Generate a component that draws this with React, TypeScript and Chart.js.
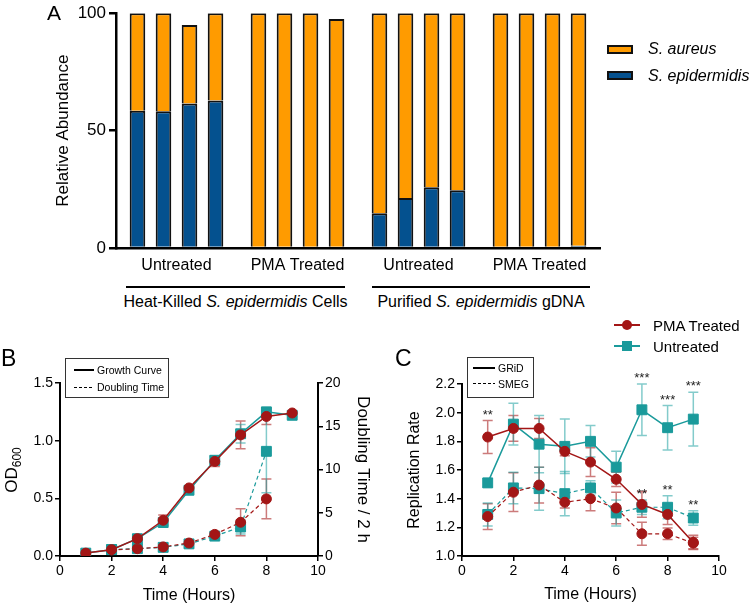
import React, { useEffect, useRef } from "react";
import { Chart, registerables } from "chart.js";
Chart.register(...registerables);

const FONT = "'Liberation Sans', Arial, Helvetica, sans-serif";
Chart.defaults.font.family = FONT;
Chart.defaults.color = "#000";

// ---------- Panel A data ----------
const groupLabels = ["Untreated", "PMA Treated", "Untreated", "PMA Treated"];
const epiHeatUntreated = [58.5, 58.2, 61.5, 62.8];
const epiHeatPMA = [0, 0, 0.5, 0];
const epiDnaUntreated = [14.8, 21.3, 25.9, 24.6];
const epiDnaPMA = [0, 0, 0, 1];
const aurHeatUntreated = [41.5, 41.8, 33.5, 37.2];
const aurHeatPMA = [100, 100, 99.5, 97.5];
const aurDnaUntreated = [85.2, 78.7, 74.1, 75.4];
const aurDnaPMA = [100, 100, 100, 99];
const replicates = [0, 1, 2, 3];

// ---------- Panel B data ----------
const hoursB = [1, 2, 3, 4, 5, 6, 7, 8, 9];
const odPMA = [0.025, 0.055, 0.15, 0.31, 0.59, 0.82, 1.05, 1.21, 1.24];
const odPMAErr = [0.005, 0.005, 0.01, 0.045, 0.015, 0.045, 0.12, 0.07, 0.01];
const odUnt = [0.025, 0.055, 0.15, 0.29, 0.57, 0.83, 1.06, 1.25, 1.22];
const odUntErr = [0.005, 0.005, 0.01, 0.02, 0.015, 0.04, 0.08, 0.03, 0.01];
const hoursDbl = [2, 3, 4, 5, 6, 7, 8];
const dblPMA = [0.7, 0.85, 1.05, 1.5, 2.5, 3.9, 6.6];
const dblPMAErr = [0.05, 0.05, 0.1, 0.15, 0.2, 1.55, 2.3];
const dblUnt = [0.75, 0.85, 1.0, 1.4, 2.3, 3.35, 12.1];
const dblUntErr = [0.05, 0.05, 0.1, 0.15, 0.2, 0.8, 4.8];

// ---------- Panel C data ----------
const hoursC = [1, 2, 3, 4, 5, 6, 7, 8, 9];
const gridPMA = [1.83, 1.89, 1.89, 1.73, 1.655, 1.535, 1.36, 1.29, 1.095];
const gridPMAErr = [0.115, 0.09, 0.07, 0.03, 0.1, 0.05, 0.09, 0.07, 0.05];
const gridUnt = [1.51, 1.92, 1.78, 1.765, 1.8, 1.62, 2.02, 1.895, 1.955];
const gridUntErr = [0.03, 0.145, 0.2, 0.19, 0.11, 0.11, 0.18, 0.155, 0.187];
const smegPMA = [1.275, 1.445, 1.495, 1.375, 1.4, 1.335, 1.155, 1.155, 1.09];
const smegPMAErr = [0.09, 0.135, 0.125, 0.04, 0.085, 0.11, 0.08, 0.04, 0.04];
const smegUnt = [1.29, 1.475, 1.47, 1.435, 1.475, 1.3, 1.34, 1.34, 1.265];
const smegUntErr = [0.08, 0.11, 0.15, 0.155, 0.05, 0.09, 0.05, 0.08, 0.05];
const sigGrid = ["**", "", "", "", "", "", "***", "***", "***"];
const sigSmeg = ["", "", "", "", "", "", "**", "**", "**"];

// ---------- colours ----------
const ORANGE = "#FF9B00";
const BLUE = "#04518F";
const RED = "#A31616";
const TEAL = "#1A9A9B";
const RED_ERR = "rgba(170,35,35,0.6)";
const TEAL_ERR = "rgba(30,160,160,0.55)";

const toXY = (xs: number[], ys: number[]) => xs.map((x, i) => ({ x, y: ys[i] }));

const errorBarPlugin = {
  id: "errbars",
  beforeDatasetsDraw(chart: any) {
    const ctx = chart.ctx;
    chart.data.datasets.forEach((ds: any, i: number) => {
      if (!ds.errors) return;
      const meta = chart.getDatasetMeta(i);
      const ys = chart.scales[meta.yAxisID];
      ctx.save();
      ctx.strokeStyle = ds.errorColor;
      ctx.lineWidth = 1.5;
      meta.data.forEach((pt: any, j: number) => {
        const v = ds.data[j].y;
        const e = ds.errors[j];
        if (!e) return;
        const top = ys.getPixelForValue(v + e);
        const bot = ys.getPixelForValue(v - e);
        ctx.beginPath();
        ctx.moveTo(pt.x, top);
        ctx.lineTo(pt.x, bot);
        ctx.moveTo(pt.x - 5, top);
        ctx.lineTo(pt.x + 5, top);
        ctx.moveTo(pt.x - 5, bot);
        ctx.lineTo(pt.x + 5, bot);
        ctx.stroke();
      });
      ctx.restore();
    });
  },
};

const sigPlugin = {
  id: "sig",
  afterDatasetsDraw(chart: any) {
    const ctx = chart.ctx;
    const ys = chart.scales.y;
    const xs = chart.scales.x;
    const groups = [
      { labels: sigGrid, sets: [0, 1] },
      { labels: sigSmeg, sets: [2, 3] },
    ];
    ctx.save();
    ctx.font = `13px ${FONT}`;
    ctx.fillStyle = "#222";
    ctx.textAlign = "center";
    ctx.textBaseline = "alphabetic";
    groups.forEach((g) =>
      g.labels.forEach((lab, j) => {
        if (!lab) return;
        const top = Math.max(
          ...g.sets.map((i) => {
            const ds: any = chart.data.datasets[i];
            return ds.data[j].y + ds.errors[j];
          })
        );
        ctx.fillText(lab, xs.getPixelForValue(hoursC[j]), ys.getPixelForValue(top) - 2);
      })
    );
    ctx.restore();
  },
};

function lineDs(label: string, xs: number[], ys: number[], errs: number[], color: string, errColor: string, dashed: boolean, square: boolean, axis: string) {
  return {
    label,
    data: toXY(xs, ys),
    errors: errs,
    errorColor: errColor,
    yAxisID: axis,
    borderColor: color,
    backgroundColor: color,
    borderWidth: dashed ? 1.2 : 1.5,
    borderDash: dashed ? [4, 3] : [],
    pointStyle: square ? "rect" : "circle",
    pointRadius: square ? 7 : 5,
    pointBorderWidth: 1,
    pointBorderColor: color,
    pointBackgroundColor: color,
    tension: 0,
  };
}

const axisBase = (min: number, max: number, step: number, fontSize: number, fmt?: (v: number) => string) => ({
  type: "linear" as const,
  min,
  max,
  ticks: {
    stepSize: step,
    font: { size: fontSize },
    color: "#000",
    padding: 2,
    callback: fmt ? (v: any) => fmt(Number(v)) : undefined,
  },
  grid: { drawOnChartArea: false, drawTicks: true, tickLength: 5, color: "#000", lineWidth: 1.5 },
  border: { display: true, color: "#000", width: 2 },
});

function PanelA() {
  const ref = useRef<HTMLCanvasElement>(null);
  useEffect(() => {
    const epi = [epiHeatUntreated, epiHeatPMA, epiDnaUntreated, epiDnaPMA];
    const aur = [aurHeatUntreated, aurHeatPMA, aurDnaUntreated, aurDnaPMA];
    const datasets: any[] = [];
    replicates.forEach((r) => {
      datasets.push({
        label: "S. epidermidis",
        data: epi.map((g) => g[r]),
        backgroundColor: BLUE,
        borderColor: "#111",
        borderWidth: 2,
        stack: "r" + r,
      });
      datasets.push({
        label: "S. aureus",
        data: aur.map((g) => g[r]),
        backgroundColor: ORANGE,
        borderColor: "#111",
        borderWidth: 2,
        stack: "r" + r,
      });
    });
    const chart = new Chart(ref.current!, {
      type: "bar",
      data: { labels: groupLabels, datasets },
      options: {
        responsive: false,
        animation: false,
        layout: { padding: { top: 9, left: 0, right: 150, bottom: 0 } },
        datasets: { bar: { barPercentage: 0.6, categoryPercentage: 0.86 } } as any,
        plugins: { legend: { display: false }, tooltip: { enabled: false } },
        scales: {
          x: {
            stacked: true,
            grid: { display: false },
            border: { display: true, color: "#000", width: 2.5 },
            ticks: { font: { size: 16 }, color: "#000", padding: 0, maxRotation: 0 },
            afterFit: (s: any) => {
              s.height = 32;
            },
          },
          y: {
            stacked: true,
            min: 0,
            max: 100,
            ticks: { stepSize: 50, font: { size: 17 }, color: "#000", padding: 3 },
            grid: { drawOnChartArea: false, drawTicks: true, tickLength: 7, color: "#000", lineWidth: 2.5 },
            border: { display: true, color: "#000", width: 2.5 },
            title: { display: true, text: "Relative Abundance", font: { size: 17 }, color: "#000", padding: { top: 52.8, bottom: 0 } },
            afterFit: (s: any) => {
              s.width = 116;
            },
          },
        },
      } as any,
    });
    return () => chart.destroy();
  }, []);
  return <canvas ref={ref} width={750} height={280} style={{ position: "absolute", left: 0, top: 0, width: 750, height: 280 }} />;
}

function PanelB() {
  const ref = useRef<HTMLCanvasElement>(null);
  useEffect(() => {
    const chart = new Chart(ref.current!, {
      type: "line",
      data: {
        datasets: [
          lineDs("PMA Treated growth", hoursB, odPMA, odPMAErr, RED, RED_ERR, false, false, "y"),
          lineDs("Untreated growth", hoursB, odUnt, odUntErr, TEAL, TEAL_ERR, false, true, "y"),
          lineDs("PMA Treated doubling", hoursDbl, dblPMA, dblPMAErr, RED, RED_ERR, true, false, "y2"),
          lineDs("Untreated doubling", hoursDbl, dblUnt, dblUntErr, TEAL, TEAL_ERR, true, true, "y2"),
        ] as any,
      },
      options: {
        responsive: false,
        animation: false,
        layout: { padding: { top: 53, left: 0, right: 0, bottom: 0 } },
        plugins: { legend: { display: false }, tooltip: { enabled: false } },
        scales: {
          x: {
            ...axisBase(0, 10, 2, 14),
            position: "bottom",
            title: { display: true, text: "Time (Hours)", font: { size: 16 }, color: "#000", padding: { top: 0, bottom: 1 } },
            afterFit: (s: any) => {
              s.height = 50;
            },
          },
          y: {
            ...axisBase(0, 1.5, 0.5, 14, (v) => v.toFixed(1)),
            position: "left",
            afterFit: (s: any) => {
              s.width = 60;
            },
          },
          y2: {
            ...axisBase(0, 20, 5, 14),
            position: "right",
            title: { display: true, text: "Doubling Time / 2 h", font: { size: 17 }, color: "#000", padding: { top: 2, bottom: 0 } },
            afterFit: (s: any) => {
              s.width = 57;
            },
          },
        },
      } as any,
      plugins: [errorBarPlugin],
    });
    return () => chart.destroy();
  }, []);
  return <canvas ref={ref} width={375} height={276} style={{ position: "absolute", left: 0, top: 330, width: 375, height: 276 }} />;
}

function PanelC() {
  const ref = useRef<HTMLCanvasElement>(null);
  useEffect(() => {
    const chart = new Chart(ref.current!, {
      type: "line",
      data: {
        datasets: [
          lineDs("PMA Treated GRiD", hoursC, gridPMA, gridPMAErr, RED, RED_ERR, false, false, "y"),
          lineDs("Untreated GRiD", hoursC, gridUnt, gridUntErr, TEAL, TEAL_ERR, false, true, "y"),
          lineDs("PMA Treated SMEG", hoursC, smegPMA, smegPMAErr, RED, RED_ERR, true, false, "y"),
          lineDs("Untreated SMEG", hoursC, smegUnt, smegUntErr, TEAL, TEAL_ERR, true, true, "y"),
        ] as any,
      },
      options: {
        responsive: false,
        animation: false,
        layout: { padding: { top: 54, left: 0, right: 31, bottom: 0 } },
        plugins: { legend: { display: false }, tooltip: { enabled: false } },
        scales: {
          x: {
            ...axisBase(0, 10, 2, 14),
            position: "bottom",
            title: { display: true, text: "Time (Hours)", font: { size: 16 }, color: "#000", padding: { top: 0, bottom: 1.4 } },
            afterFit: (s: any) => {
              s.height = 50;
            },
          },
          y: {
            ...axisBase(1.0, 2.2, 0.2, 14, (v) => v.toFixed(1)),
            position: "left",
            title: { display: true, text: "Replication Rate", font: { size: 16 }, color: "#000", padding: { top: 30.4, bottom: 0 } },
            afterFit: (s: any) => {
              s.width = 87;
            },
          },
        },
      } as any,
      plugins: [errorBarPlugin, sigPlugin],
    });
    return () => chart.destroy();
  }, []);
  return <canvas ref={ref} width={375} height={276} style={{ position: "absolute", left: 375, top: 330, width: 375, height: 276 }} />;
}

const T = (props: { x: number; cy: number; fs: number; children: any; italic?: boolean; w?: number; center?: boolean }) => {
  const { x, cy, fs, italic, w, center } = props;
  const width = w ?? 300;
  return (
    <div
      style={{
        position: "absolute",
        left: center ? x - width / 2 : x,
        top: cy - fs / 2,
        width: center ? width : undefined,
        textAlign: center ? "center" : "left",
        fontSize: fs,
        lineHeight: `${fs}px`,
        fontStyle: italic ? "italic" : "normal",
        whiteSpace: "nowrap",
      }}
    >
      {props.children}
    </div>
  );
};

const Box = (p: { l: number; t: number; w: number; h: number; style?: any }) => (
  <div style={{ position: "absolute", left: p.l, top: p.t, width: p.w, height: p.h, boxSizing: "border-box", ...p.style }} />
);

const dashBg = "repeating-linear-gradient(to right, #000 0 3px, transparent 3px 5px)";

export default function App() {
  return (
    <div
      style={{
        position: "fixed",
        left: 0,
        top: 0,
        width: 750,
        height: 606,
        background: "#fff",
        fontFamily: FONT,
        color: "#000",
        overflow: "hidden",
      }}
    >
      <PanelA />
      <PanelB />
      <PanelC />

      {/* Panel letters */}
      <T x={47} cy={12.5} fs={21}>A</T>
      <T x={1} cy={358.5} fs={23}>B</T>
      <T x={395} cy={358.5} fs={23}>C</T>

      {/* Panel A legend */}
      <Box l={607} t={45} w={26} h={9} style={{ background: ORANGE, border: "2px solid #111" }} />
      <Box l={607} t={71} w={26} h={9} style={{ background: BLUE, border: "2px solid #111" }} />
      <T x={648} cy={49} fs={16} italic>S. aureus</T>
      <T x={648} cy={75.5} fs={16} italic>S. epidermidis</T>

      {/* Panel A group brackets */}
      <Box l={126} t={286} w={219} h={2} style={{ background: "#000" }} />
      <Box l={372} t={286} w={218} h={2} style={{ background: "#000" }} />
      <T x={235.5} cy={302} fs={16} center w={320}>
        Heat-Killed <i>S. epidermidis</i> Cells
      </T>
      <T x={481} cy={302} fs={16} center w={320}>
        Purified <i>S. epidermidis</i> gDNA
      </T>

      {/* Panel B OD600 title */}
      <div
        style={{
          position: "absolute",
          left: 12 - 60,
          top: 470 - 10,
          width: 120,
          height: 20,
          lineHeight: "20px",
          fontSize: 17,
          textAlign: "center",
          transform: "rotate(-90deg)",
          whiteSpace: "nowrap",
        }}
      >
        OD<sub style={{ fontSize: 12, verticalAlign: "-4px" }}>600</sub>
      </div>

      {/* Panel B inner legend */}
      <Box l={65} t={358} w={104} h={40} style={{ border: "1px solid #333" }} />
      <Box l={74} t={369} w={20} h={2} style={{ background: "#000" }} />
      <Box l={74} t={386.5} w={20} h={1.3} style={{ background: dashBg }} />
      <T x={97} cy={370} fs={10.5}>Growth Curve</T>
      <T x={97} cy={387} fs={10.5}>Doubling Time</T>

      {/* Panel C inner legend */}
      <Box l={467} t={357} w={67} h={41} style={{ border: "1px solid #333" }} />
      <Box l={473} t={367} w={22} h={2} style={{ background: "#000" }} />
      <Box l={473} t={383} w={22} h={1.3} style={{ background: dashBg }} />
      <T x={498} cy={368} fs={10.5}>GRiD</T>
      <T x={498} cy={384} fs={10.5}>SMEG</T>

      {/* Panel C series legend */}
      <Box l={614} t={324} w={26} h={2} style={{ background: RED }} />
      <Box l={622} t={320} w={10} h={10} style={{ background: RED, borderRadius: "50%" }} />
      <T x={653} cy={325} fs={15}>PMA Treated</T>
      <Box l={614} t={345} w={26} h={2} style={{ background: TEAL }} />
      <Box l={622} t={341} w={10} h={10} style={{ background: TEAL }} />
      <T x={653} cy={346} fs={15}>Untreated</T>
    </div>
  );
}
